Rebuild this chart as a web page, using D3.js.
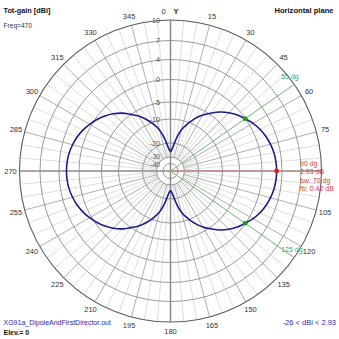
<!DOCTYPE html>
<html><head><meta charset="utf-8">
<script src="https://cdn.jsdelivr.net/npm/d3@7"></script>
<style>html,body{margin:0;padding:0;background:#fff;}svg{display:block;font-family:"Liberation Sans",Arial,sans-serif;}</style>
</head><body><div id="chart"></div>
<script>
// ---- data ----
const angles = [0,5,10,15,20,25,30,35,40,45,50,55,60,65,70,75,80,85,90,95,100,105,110,115,120,125,130,135,140,145,150,155,160,165,170,175,
  180,185,190,195,200,205,210,215,220,225,230,235,240,245,250,255,260,265,270,275,280,285,290,295,300,305,310,315,320,325,330,335,340,345,350,355];
const gain = [-26,-23.4,-18.09,-13.77,-10.69,-8.29,-6.31,-4.66,-3.21,-2.00,-0.94,-0.07,0.78,1.44,1.98,2.39,2.70,2.87,
  2.93,2.87,2.70,2.39,1.98,1.44,0.78,-0.07,-0.94,-2.00,-3.21,-4.66,-6.31,-8.29,-10.69,-13.77,-18.09,-23.4,
  -26,-23.5,-18.2,-13.97,-10.93,-8.56,-6.61,-4.98,-3.55,-2.36,-1.31,-0.39,0.39,1.04,1.57,1.98,2.29,2.45,
  2.51,2.45,2.29,1.98,1.57,1.04,0.39,-0.39,-1.31,-2.36,-3.55,-4.98,-6.61,-8.56,-10.93,-13.97,-18.2,-23.5];
const ringTicks = [10,7,4,0,-5,-10,-20,-30,-40];
const angleTicks = [0,15,30,45,60,75,105,120,135,150,165,180,195,210,225,240,255,270,285,300,315,330,345];
const minorAngles = d3.range(0,360,5);
const maxAngle = 90, maxGain = 2.93;
const bwAngles = [55,125];
const bwGain = -0.07;
const infoLines = ["90 dg","2.93 dB","bw: 70 dg","fb: 0.42 dB"];

// ---- layout ----
const W = 339, H = 339, cx = 170.5, cy = 171, R = 151;
const r = d3.scaleLinear()
  .domain([-40,-30,-20,-10,-5,0,4,7,10])
  .range([7.5,14,28,52,69,91.5,111.5,130.5,R])
  .clamp(true);
const rad = d => d*Math.PI/180;
const px = (a,rr) => cx + rr*Math.sin(rad(a));
const py = (a,rr) => cy - rr*Math.cos(rad(a));

const svg = d3.select("#chart").append("svg").attr("width",W).attr("height",H);
svg.append("rect").attr("width",W).attr("height",H).attr("fill","#fff");
const g = svg.append("g");

// minor radials
g.selectAll("line.minor").data(minorAngles.filter(a=>a%15!==0)).join("line")
  .attr("x1",a=>px(a,r(-30))).attr("y1",a=>py(a,r(-30)))
  .attr("x2",a=>px(a,R)).attr("y2",a=>py(a,R))
  .attr("stroke","#d6d6d6").attr("stroke-width",0.8);
// major radials
g.selectAll("line.major").data(minorAngles.filter(a=>a%15===0 && a%90!==0)).join("line")
  .attr("x1",a=>px(a,r(-30))).attr("y1",a=>py(a,r(-30)))
  .attr("x2",a=>px(a,R)).attr("y2",a=>py(a,R))
  .attr("stroke","#9a9a9a").attr("stroke-width",0.8);
// rings
g.selectAll("circle.ring").data(ringTicks).join("circle")
  .attr("cx",cx).attr("cy",cy).attr("r",d=>r(d))
  .attr("fill","none")
  .attr("stroke",d=>d===10?"#5a5a5a":"#8e8e8e")
  .attr("stroke-width",d=>d===10?1.1:0.9);
// axes
g.selectAll("line.axis").data([0,90]).join("line")
  .attr("x1",a=>px(a,R)).attr("y1",a=>py(a,R))
  .attr("x2",a=>px(a+180,R)).attr("y2",a=>py(a+180,R))
  .attr("stroke","#8a8a8a").attr("stroke-width",1.5);

// markers lines
g.append("line").attr("x1",cx).attr("y1",cy).attr("x2",px(maxAngle,129.5)).attr("y2",py(maxAngle,129.5))
  .attr("stroke","#d88c8c").attr("stroke-width",1.2);
g.selectAll("line.bw").data(bwAngles).join("line")
  .attr("x1",cx).attr("y1",cy).attr("x2",a=>px(a,R)).attr("y2",a=>py(a,R))
  .attr("stroke","#6cbc6c").attr("stroke-width",0.9);

// pattern
const pts = angles.map((a,i)=>[rad(a), r(gain[i])]);
g.append("path")
  .attr("d", d3.lineRadial().curve(d3.curveCatmullRomClosed.alpha(0.5))(pts))
  .attr("transform",`translate(${cx},${cy})`)
  .attr("fill","none").attr("stroke","#1c1c8c").attr("stroke-width",1.6);

// dots
g.append("circle").attr("cx",px(maxAngle,r(maxGain))).attr("cy",py(maxAngle,r(maxGain))).attr("r",2.4).attr("fill","#e01818");
g.selectAll("circle.bw").data(bwAngles).join("circle")
  .attr("cx",a=>px(a,r(bwGain))).attr("cy",a=>py(a,r(bwGain))).attr("r",2.4).attr("fill","#1e9a1e");

// angle labels
g.selectAll("text.ang").data(angleTicks).join("text")
  .attr("x",a=>a===0?163.5:px(a,160)).attr("y",a=>py(a,160))
  .attr("text-anchor","middle").attr("dominant-baseline","central")
  .attr("font-size",7.5).attr("fill","#333").text(a=>a);
g.append("text").attr("x",176).attr("y",py(0,160)).attr("text-anchor","middle").attr("dominant-baseline","central")
  .attr("font-size",7.5).attr("font-weight","bold").attr("fill","#333").text("Y");

// ring labels
g.selectAll("text.ring").data(ringTicks).join("text")
  .attr("x",160).attr("y",d=>cy-r(d)+(d===-40?1:(d===-30?-0.8:0)))
  .attr("text-anchor","end").attr("dominant-baseline","central")
  .attr("font-size",d=>d<=-30?6.4:7.3).attr("fill","#555").text(d=>d);

// bw labels
g.selectAll("text.bw").data(bwAngles).join("text")
  .attr("x",a=>px(a,R)-13).attr("y",a=>py(a,R)-5.5)
  .attr("font-size",7).attr("fill","#4aa84a").text(a=>a+" dg");

// info text
g.selectAll("text.info").data(infoLines).join("text")
  .attr("x",300).attr("y",(d,i)=>165.5+i*8.6)
  .attr("font-size",7).attr("fill","#e03a3a").text(d=>d);

// titles
svg.append("text").attr("x",3.5).attr("y",12.5).attr("font-size",7.3).attr("font-weight","bold").attr("fill","#111").text("Tot-gain [dBi]");
svg.append("text").attr("x",3.5).attr("y",28).attr("font-size",6.6).attr("fill","#333").text("Freq=470");
svg.append("text").attr("x",333.5).attr("y",12.5).attr("text-anchor","end").attr("font-size",7.6).attr("font-weight","bold").attr("fill","#111").text("Horizontal plane");
svg.append("text").attr("x",3.5).attr("y",324.5).attr("font-size",7).attr("fill","#2a2ab4").text("XG91a_DipoleAndFirstDirector.out");
svg.append("text").attr("x",3.5).attr("y",335).attr("font-size",7).attr("font-weight","bold").attr("fill","#111").text("Elev.= 0");
svg.append("text").attr("x",336).attr("y",324.5).attr("text-anchor","end").attr("font-size",7.5).attr("fill","#2a2ab4").text("-26 < dBi < 2.93");
</script></body></html>
